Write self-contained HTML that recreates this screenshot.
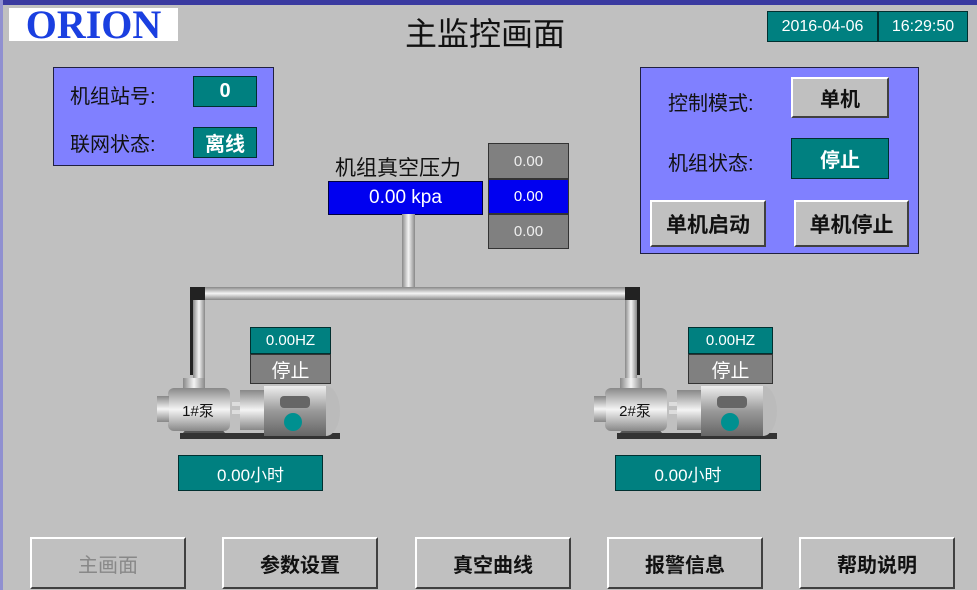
<!DOCTYPE html>
<html><head><meta charset="utf-8"><style>
body{margin:0;width:977px;height:590px;overflow:hidden;background:#c0c0c0;font-family:"Liberation Sans","Noto Sans CJK SC",sans-serif;position:relative}
.a{position:absolute;box-sizing:border-box}
.t{display:flex;align-items:center;justify-content:center}
.teal{background:#008080;color:#fff;border:1px solid #003030}
.btn{background:#c0c0c0;border-top:2px solid #fff;border-left:2px solid #fff;border-right:2px solid #404040;border-bottom:2px solid #404040;font-weight:bold;color:#111}
.lbl{font-size:20px;color:#111}
</style></head><body>
<div class="a" style="left:0;top:0;width:977px;height:5px;background:#3a3aa0"></div>
<div class="a" style="left:0;top:0;width:3px;height:590px;background:#9090d0"></div>
<div class="a t" style="left:9px;top:8px;width:169px;height:33px;background:#fff;color:#1a3fe0;font-family:'Liberation Serif',serif;font-weight:bold;font-size:40px;letter-spacing:0px;line-height:33px">ORION</div>
<div class="a t" style="left:375px;top:12px;width:220px;height:40px;font-size:32px;color:#111">主监控画面</div>
<div class="a t teal" style="left:767px;top:11px;width:111px;height:31px;font-size:16px">2016-04-06</div>
<div class="a t teal" style="left:878px;top:11px;width:90px;height:31px;font-size:16px">16:29:50</div>

<div class="a" style="left:53px;top:67px;width:221px;height:99px;background:#8080ff;border:1px solid #202040"></div>
<div class="a lbl" style="left:70px;top:80px">机组站号:</div>
<div class="a t teal" style="left:193px;top:76px;width:64px;height:31px;font-size:20px;font-weight:bold">0</div>
<div class="a lbl" style="left:70px;top:128px">联网状态:</div>
<div class="a t teal" style="left:193px;top:127px;width:64px;height:31px;font-size:20px;font-weight:bold">离线</div>

<div class="a lbl" style="left:335px;top:152px;font-size:21px">机组真空压力</div>
<div class="a t" style="left:328px;top:181px;width:155px;height:34px;background:#0000f0;color:#fff;font-size:19px;border:1px solid #000040">0.00 kpa</div>
<div class="a t" style="left:488px;top:143px;width:81px;height:36px;background:#808080;color:#eee;font-size:15px;border:1px solid #333">0.00</div>
<div class="a t" style="left:488px;top:179px;width:81px;height:35px;background:#0000f0;color:#fff;font-size:15px;border:1px solid #333">0.00</div>
<div class="a t" style="left:488px;top:214px;width:81px;height:35px;background:#808080;color:#eee;font-size:15px;border:1px solid #333">0.00</div>

<svg class="a" style="left:0;top:0" width="977" height="590">
<defs><linearGradient id="pv" x1="0" x2="1"><stop offset="0" stop-color="#888"/><stop offset=".5" stop-color="#f4f4f4"/><stop offset="1" stop-color="#888"/></linearGradient>
<linearGradient id="ph" x1="0" x2="0" y1="0" y2="1"><stop offset="0" stop-color="#888"/><stop offset=".5" stop-color="#f4f4f4"/><stop offset="1" stop-color="#888"/></linearGradient>
<linearGradient id="mt" x1="0" x2="0" y1="0" y2="1"><stop offset="0" stop-color="#eee"/><stop offset=".5" stop-color="#999"/><stop offset="1" stop-color="#666"/></linearGradient></defs>
<rect x="402" y="214" width="13" height="76" fill="url(#pv)"/>
<rect x="200" y="287" width="430" height="13" fill="url(#ph)"/>
<path d="M190 375V287h15v13h-2v75z" fill="#222"/><rect x="193" y="300" width="12" height="78" fill="url(#pv)"/>
<path d="M640 375V287h-15v13h2v75z" fill="#222"/><rect x="625" y="300" width="12" height="78" fill="url(#pv)"/>
<g id="p">
<rect x="180" y="433" width="160" height="6" fill="#333"/>
<path d="M183 433l8-10h26l8 10z" fill="#555"/>
<rect x="183" y="378" width="22" height="10" fill="url(#pv)"/>
<rect x="168" y="388" width="62" height="43" rx="6" fill="url(#ph)"/>
<rect x="157" y="396" width="12" height="26" fill="url(#ph)"/>
<rect x="232" y="402" width="24" height="4" fill="#ddd"/><rect x="232" y="410" width="24" height="4" fill="#ddd"/>
<rect x="240" y="390" width="26" height="40" fill="url(#ph)"/>
<rect x="264" y="386" width="62" height="50" fill="url(#mt)"/>
<path d="M326 386a14 25 0 0 1 0 50z" fill="#bbb"/>
<rect x="280" y="396" width="30" height="12" rx="4" fill="#666"/>
<circle cx="293" cy="422" r="9" fill="#009090"/>
<text x="198" y="416" font-size="15" text-anchor="middle" fill="#111" font-family="Liberation Sans,Noto Sans CJK SC,sans-serif">1#泵</text>
</g>
<g transform="translate(437,0)">
<rect x="180" y="433" width="160" height="6" fill="#333"/>
<path d="M183 433l8-10h26l8 10z" fill="#555"/>
<rect x="183" y="378" width="22" height="10" fill="url(#pv)"/>
<rect x="168" y="388" width="62" height="43" rx="6" fill="url(#ph)"/>
<rect x="157" y="396" width="12" height="26" fill="url(#ph)"/>
<rect x="232" y="402" width="24" height="4" fill="#ddd"/><rect x="232" y="410" width="24" height="4" fill="#ddd"/>
<rect x="240" y="390" width="26" height="40" fill="url(#ph)"/>
<rect x="264" y="386" width="62" height="50" fill="url(#mt)"/>
<path d="M326 386a14 25 0 0 1 0 50z" fill="#bbb"/>
<rect x="280" y="396" width="30" height="12" rx="4" fill="#666"/>
<circle cx="293" cy="422" r="9" fill="#009090"/>
<text x="198" y="416" font-size="15" text-anchor="middle" fill="#111" font-family="Liberation Sans,Noto Sans CJK SC,sans-serif">2#泵</text>
</g>
</svg>

<div class="a t teal" style="left:250px;top:327px;width:81px;height:27px;font-size:15px">0.00HZ</div>
<div class="a t" style="left:250px;top:354px;width:81px;height:30px;background:#808080;color:#fff;font-size:19px;border:1px solid #333">停止</div>
<div class="a t teal" style="left:178px;top:455px;width:145px;height:36px;font-size:17px">0.00小时</div>
<div class="a t teal" style="left:688px;top:327px;width:85px;height:27px;font-size:15px">0.00HZ</div>
<div class="a t" style="left:688px;top:354px;width:85px;height:30px;background:#808080;color:#fff;font-size:19px;border:1px solid #333">停止</div>
<div class="a t teal" style="left:615px;top:455px;width:146px;height:36px;font-size:17px">0.00小时</div>

<div class="a" style="left:640px;top:67px;width:279px;height:187px;background:#8080ff;border:1px solid #202040"></div>
<div class="a lbl" style="left:668px;top:87px">控制模式:</div>
<div class="a t btn" style="left:791px;top:77px;width:98px;height:41px;font-size:20px">单机</div>
<div class="a lbl" style="left:668px;top:147px">机组状态:</div>
<div class="a t teal" style="left:791px;top:138px;width:98px;height:41px;font-size:20px;font-weight:bold">停止</div>
<div class="a t btn" style="left:650px;top:200px;width:116px;height:47px;font-size:21px">单机启动</div>
<div class="a t btn" style="left:794px;top:200px;width:115px;height:47px;font-size:21px">单机停止</div>

<div class="a t btn" style="left:30px;top:537px;width:156px;height:52px;font-size:20px;color:#888;font-weight:normal">主画面</div>
<div class="a t btn" style="left:222px;top:537px;width:156px;height:52px;font-size:20px">参数设置</div>
<div class="a t btn" style="left:415px;top:537px;width:156px;height:52px;font-size:20px">真空曲线</div>
<div class="a t btn" style="left:607px;top:537px;width:156px;height:52px;font-size:20px">报警信息</div>
<div class="a t btn" style="left:799px;top:537px;width:156px;height:52px;font-size:20px">帮助说明</div>
</body></html>
